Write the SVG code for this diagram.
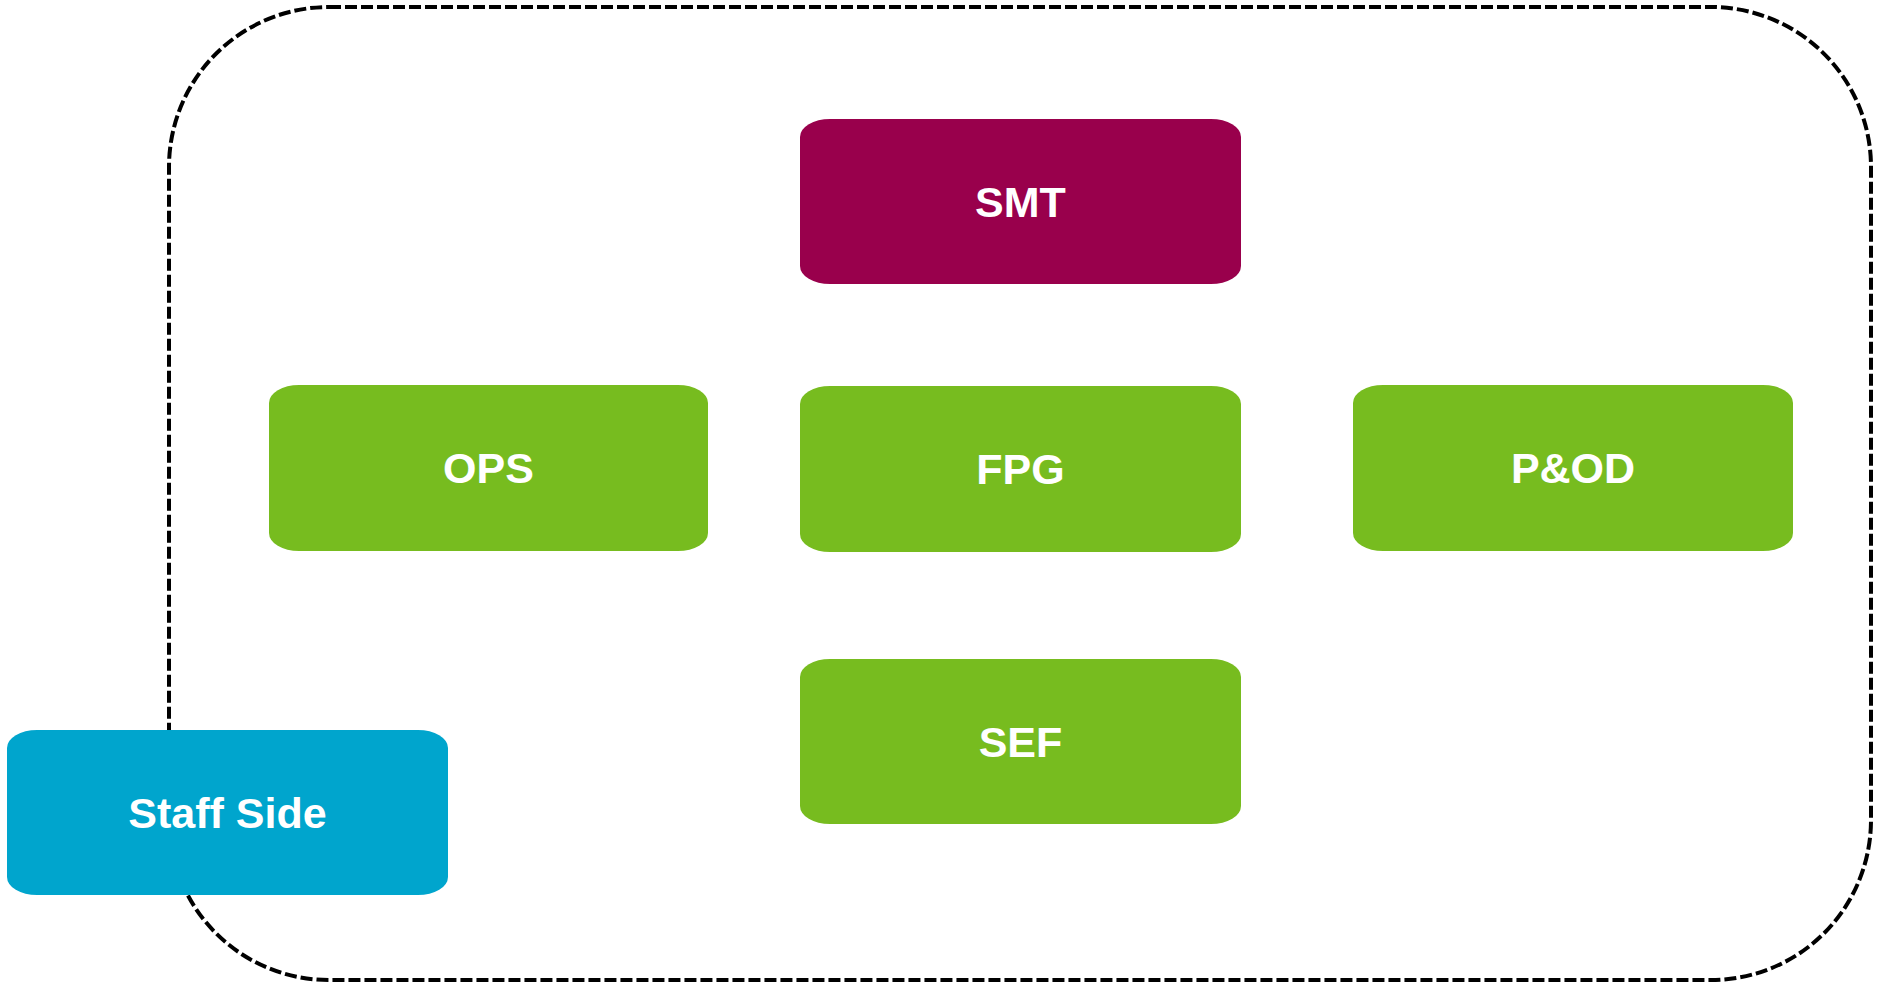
<svg xmlns="http://www.w3.org/2000/svg" width="1877" height="983" viewBox="0 0 1877 983">
<style>
.box{stroke:none}
.green{fill:#77BC1F}
.lbl{font-family:"Liberation Sans",Arial,sans-serif;font-weight:bold;font-size:43px;fill:#FFFFFF;text-anchor:middle}
</style>
<rect x="0" y="0" width="1877" height="983" fill="#FFFFFF"/>
<g id="boundary">
<rect x="169" y="7" width="1702" height="973" rx="160" ry="160" fill="none" stroke="#000000" stroke-width="4" stroke-dasharray="12 4"/>
</g>
<g id="connectors"></g>
<g id="node-smt">
<rect class="box" x="800" y="119" width="441" height="165" rx="30" ry="18" fill="#99004C"/>
<text class="lbl" x="1020.5" y="217">SMT</text>
</g>
<g id="node-ops">
<rect class="box green" x="269" y="385" width="439" height="166" rx="30" ry="18"/>
<text class="lbl" x="488.5" y="483">OPS</text>
</g>
<g id="node-fpg">
<rect class="box green" x="800" y="386" width="441" height="166" rx="30" ry="18"/>
<text class="lbl" x="1020.5" y="484">FPG</text>
</g>
<g id="node-pod">
<rect class="box green" x="1353" y="385" width="440" height="166" rx="30" ry="18"/>
<text class="lbl" x="1573" y="483">P&amp;OD</text>
</g>
<g id="node-sef">
<rect class="box green" x="800" y="659" width="441" height="165" rx="30" ry="18"/>
<text class="lbl" x="1020.5" y="757">SEF</text>
</g>
<g id="node-staff-side">
<rect class="box" x="7" y="730" width="441" height="165" rx="30" ry="18" fill="#00A5CD"/>
<text class="lbl" x="227.5" y="828">Staff Side</text>
</g>
</svg>
